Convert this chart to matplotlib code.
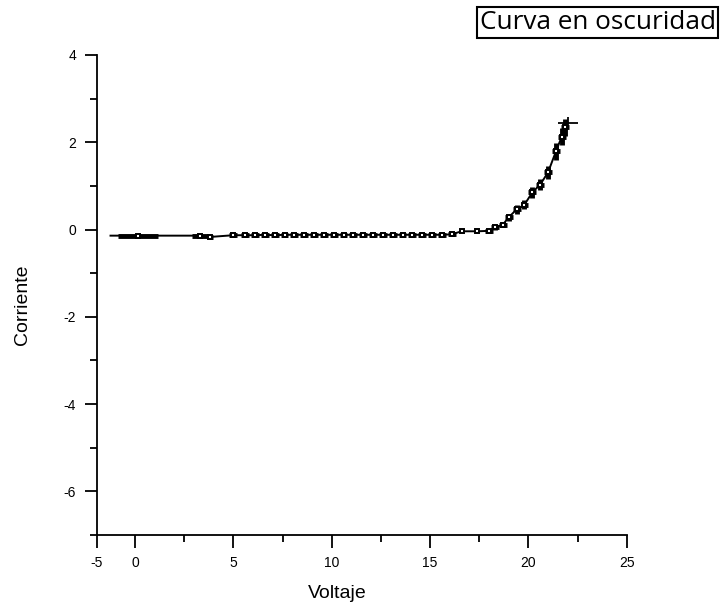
import matplotlib
matplotlib.use("Agg")
import matplotlib.pyplot as plt
from matplotlib.ticker import FixedLocator

# datos
voltaje = [-1.25, 0.15, 3.3, 3.8, 5.0, 5.6, 6.1, 6.6, 7.1, 7.6, 8.1, 8.6, 9.1,
           9.6, 10.1, 10.6, 11.1, 11.6, 12.1, 12.6, 13.1, 13.6, 14.1, 14.6,
           15.1, 15.6, 16.1, 16.6, 17.4, 18.0, 18.3, 18.7, 19.0, 19.4, 19.8,
           20.2, 20.6, 21.0, 21.4, 21.7, 21.85, 22.0]
corriente = [-0.14, -0.14, -0.14, -0.17, -0.13, -0.13, -0.13, -0.12, -0.13,
             -0.12, -0.12, -0.12, -0.12, -0.12, -0.12, -0.12, -0.12, -0.12,
             -0.12, -0.12, -0.12, -0.12, -0.12, -0.12, -0.12, -0.12, -0.11,
             -0.04, -0.04, -0.03, 0.05, 0.11, 0.28, 0.46, 0.57, 0.85, 1.03,
             1.31, 1.79, 2.13, 2.34, 2.45]
err_v = [0.0, 1.0, 0.4, 0.15, 0.2, 0.2, 0.2, 0.2, 0.2, 0.2, 0.2, 0.2, 0.2,
         0.2, 0.2, 0.2, 0.2, 0.2, 0.2, 0.2, 0.2, 0.2, 0.2, 0.2, 0.2, 0.2,
         0.2, 0.0, 0.0, 0.2, 0.2, 0.2, 0.2, 0.2, 0.2, 0.2, 0.2, 0.2, 0.2,
         0.2, 0.2, 0.5]
err_c = [0.0, 0.0, 0.0, 0.0, 0.0, 0.0, 0.0, 0.0, 0.0, 0.0, 0.0, 0.0, 0.0,
         0.0, 0.0, 0.0, 0.0, 0.0, 0.0, 0.0, 0.0, 0.0, 0.0, 0.0, 0.0, 0.0,
         0.0, 0.0, 0.0, 0.05, 0.05, 0.06, 0.08, 0.1, 0.1, 0.12, 0.12, 0.15,
         0.2, 0.2, 0.2, 0.12]

x_ticks = [-1.95, 0, 5, 10, 15, 20, 25]
x_labels = ["-5", "0", "5", "10", "15", "20", "25"]
y_ticks = [-6, -4, -2, 0, 2, 4]

plt.rcParams["font.family"] = "Liberation Sans"
plt.rcParams["axes.unicode_minus"] = False

fig = plt.figure(figsize=(7.22, 6.09), dpi=100)
ax = fig.add_axes([0.134, 0.1215, 0.734, 0.7882])

ax.plot(voltaje, corriente, color="black", lw=1.4, zorder=2)
ax.errorbar(voltaje[1:-1], corriente[1:-1], xerr=err_v[1:-1], yerr=err_c[1:-1],
            fmt="s", ms=3.2, mfc="white", mec="black", mew=1.4,
            ecolor="black", elinewidth=3.5, capsize=0, zorder=3)
ax.errorbar(voltaje[-1:], corriente[-1:], xerr=err_v[-1:], yerr=err_c[-1:],
            fmt="none", ecolor="black", elinewidth=1.3, zorder=3)

ax.set_xlim(-1.95, 25)
ax.set_ylim(-7, 4)
ax.set_xticks(x_ticks)
ax.set_xticklabels(x_labels)
ax.xaxis.set_minor_locator(FixedLocator([2.5, 7.5, 12.5, 17.5, 22.5]))
ax.set_yticks(y_ticks)
ax.yaxis.set_minor_locator(FixedLocator([-7, -5, -3, -1, 1, 3]))

for s in ["top", "right"]:
    ax.spines[s].set_visible(False)
for s in ["left", "bottom"]:
    ax.spines[s].set_linewidth(1.3)

ax.tick_params(which="major", direction="out", length=9, width=1.3,
               labelsize=10, pad=6)
ax.tick_params(which="minor", direction="out", length=5, width=1.3)

ax.set_xlabel("Voltaje", fontsize=14)
ax.xaxis.set_label_coords((337 - 96.7) / 530.3, -0.105)
ax.set_ylabel("Corriente", fontsize=14)
ax.yaxis.set_label_coords(-0.125, 0.48)

fig.text(0.9915, 0.963, "Curva en oscuridad", family="Open Sans", fontsize=18.8,
         ha="right", va="center",
         bbox=dict(boxstyle="square,pad=0.1", fc="white", ec="black", lw=1.5))

fig.savefig("out.png", dpi=100)
